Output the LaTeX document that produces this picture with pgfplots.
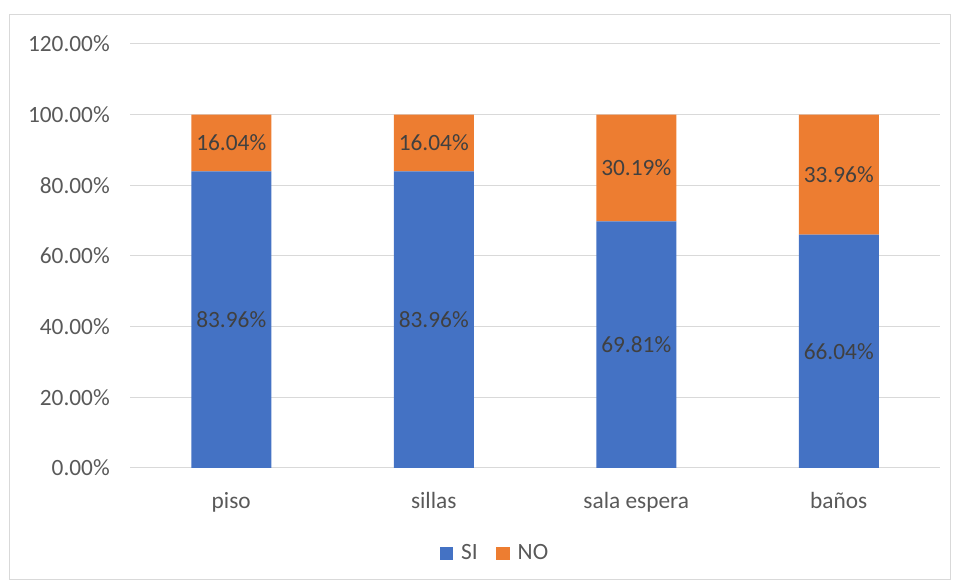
\documentclass[border=0pt]{standalone}
\usepackage{pgfplots}
\pgfplotsset{compat=1.18}
\usepackage{fontspec}
\setmainfont{Carlito}
\definecolor{siblue}{HTML}{4472C4}
\definecolor{noorange}{HTML}{ED7D31}
\definecolor{gridgray}{HTML}{D9D9D9}
\definecolor{ticktext}{HTML}{595959}
\definecolor{labeltext}{HTML}{404040}
\newcommand{\cfont}{\fontsize{17.5}{21}\selectfont}
\pgfplotsset{
  mybase/.style={
    at={(97.5pt,87pt)}, anchor=south west, scale only axis,
    width=607.5pt, height=318pt,
    xmin=-0.5, xmax=3.5, ymin=0, ymax=120,
  },
  sqlegend/.style={legend image code/.code={\fill[##1] (0pt,-5pt) rectangle (10pt,5pt); \path (14pt,0pt);}},
}
\begin{document}
\begin{tikzpicture}
\useasboundingbox (0pt,0pt) rectangle (717pt,438pt);
\draw[gridgray, line width=0.75pt] (6.75pt,3pt) rectangle (712.5pt,426.75pt);
\begin{axis}[mybase,
  ybar stacked, bar width=60pt,
  axis line style={draw=none},
  ymajorgrids, grid style={gridgray, line width=0.75pt},
  major tick length=0pt,
  xtick={0,1,2,3}, xticklabels={piso,sillas,sala espera,baños},
  ytick={0,20,40,60,80,100,120},
  yticklabels={0.00\%,20.00\%,40.00\%,60.00\%,80.00\%,100.00\%,120.00\%},
  tick label style={font=\cfont, text=ticktext},
  yticklabel style={inner sep=0pt, xshift=-15pt},
  xticklabel style={inner sep=0pt, yshift=-18pt},
  legend style={at={(0.451,-0.201)}, anchor=center, draw=none, fill=none,
    legend columns=2, font=\cfont, text=ticktext,
    /tikz/every even column/.append style={column sep=12pt}},
]
\addplot[fill=siblue, draw=none, sqlegend] coordinates {(0,83.96) (1,83.96) (2,69.81) (3,66.04)};
\addlegendentry{SI}
\addplot[fill=noorange, draw=none, sqlegend] coordinates {(0,16.04) (1,16.04) (2,30.19) (3,33.96)};
\addlegendentry{NO}
\end{axis}
\begin{axis}[mybase, hide axis]
\addplot[draw=none, mark=none, nodes near coords, point meta=explicit symbolic,
  every node near coord/.append style={anchor=center, font=\cfont, text=labeltext, inner sep=0pt}]
  coordinates {(0,41.98) [83.96\%] (1,41.98) [83.96\%] (2,34.905) [69.81\%] (3,33.02) [66.04\%]
               (0,91.98) [16.04\%] (1,91.98) [16.04\%] (2,84.905) [30.19\%] (3,83.02) [33.96\%]};
\end{axis}
\end{tikzpicture}
\end{document}
